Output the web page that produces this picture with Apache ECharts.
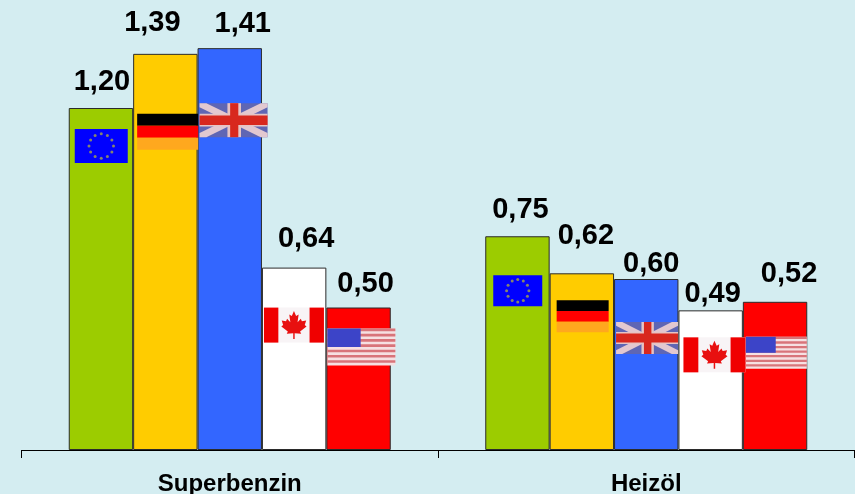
<!DOCTYPE html>
<html><head><meta charset="utf-8">
<style>html,body{margin:0;padding:0;background:#d4edf1}#c{width:855px;height:494px}</style>
<script src="https://cdn.jsdelivr.net/npm/echarts@6/dist/echarts.min.js"></script>
</head><body><div id="c"></div>
<script>
const categories = ['Superbenzin', 'Heizöl'];
const eu = [1.20, 0.75];
const de = [1.39, 0.62];
const uk = [1.41, 0.60];
const ca = [0.64, 0.49];
const us = [0.50, 0.52];

const seriesOrder = [
  {key:'eu', values:eu, color:'#9ccc00'},
  {key:'de', values:de, color:'#ffcc00'},
  {key:'uk', values:uk, color:'#3366ff'},
  {key:'ca', values:ca, color:'#ffffff'},
  {key:'us', values:us, color:'#ff0000'}
];
// label nudges [dx, dy] relative to the bar's top centre
const labelNudge = {
  eu:[[1,-12],[3,-12]], de:[[-13,-16],[4,-23]], uk:[[13,-10],[5,-1]],
  ca:[[12,-14],[2,-2]], us:[[7,-9],[14,-13]]
};
// flag boxes: [dx from bar left, dy from bar top, w, h]
const BAR_W = 64.4;
const flagBox = {
  eu:[[6,21,53,34],[8,39,49,31]],
  de:[[4,60,61,36],[7,27,52,32]],
  uk:[[2,55,68,34],[2,43,62,32]],
  ca:[[2,40,60,35],[5,27,62,35]],
  us:[[1,21,68,37],[3,35,61,32]]
};

function rect(x,y,w,h,fill){return {type:'rect',shape:{x,y,width:w,height:h},style:{fill}};}
function poly(pts,fill,x,y,w,h){return {type:'polygon',shape:{points:pts.map(p=>[x+p[0]*w,y+p[1]*h])},style:{fill}};}
const leaf=[[.5,.1],[.56,.24],[.63,.2],[.6,.42],[.69,.32],[.72,.39],[.84,.37],[.8,.5],[.85,.54],[.67,.68],[.7,.75],[.52,.73],[.52,.9],[.48,.9],[.48,.73],[.3,.75],[.33,.68],[.15,.54],[.2,.5],[.16,.37],[.28,.39],[.31,.32],[.4,.42],[.37,.2],[.44,.24]];

function drawFlag(key,x,y,w,h){
  const c=[];
  if(key==='eu'){
    c.push(rect(x,y,w,h,'#0000ff'));
    const r=h*0.36;
    for(let i=0;i<12;i++){
      const a=i*Math.PI/6;
      c.push({type:'circle',shape:{cx:x+w/2+Math.cos(a)*r,cy:y+h/2+Math.sin(a)*r,r:1.5},style:{fill:'#85856e'}});
    }
  } else if(key==='de'){
    c.push(rect(x,y,w,h/3,'#000000'));
    c.push(rect(x,y+h/3,w,h/3,'#ff0000'));
    c.push(rect(x,y+2*h/3,w,h/3,'#ffa81e'));
  } else if(key==='uk'){
    c.push(rect(x,y,w,h,'#5f66b4'));
    c.push(poly([[0,0],[.1,0],[1,.88],[1,1],[.9,1],[0,.12]],'#e2c8d0',x,y,w,h));
    c.push(poly([[1,0],[.9,0],[0,.88],[0,1],[.1,1],[1,.12]],'#e2c8d0',x,y,w,h));
    c.push(rect(x+w*.41,y,w*.2,h,'#e6c4c4'));
    c.push(rect(x,y+h*.31,w,h*.38,'#e6c4c4'));
    c.push(rect(x+w*.45,y,w*.12,h,'#d8281e'));
    c.push(rect(x,y+h*.36,w,h*.28,'#d8281e'));
  } else if(key==='ca'){
    c.push(rect(x,y,w,h,'#f8f4f6'));
    c.push(rect(x,y,w*.24,h,'#f00000'));
    c.push(rect(x+w*.76,y,w*.24,h,'#f00000'));
    c.push(poly(leaf,'#e81010',x+w*.2,y,w*.6,h));
  } else if(key==='us'){
    const n=7;
    c.push(rect(x,y,w,h,'#f6e0e2'));
    for(let i=0;i<n;i++) c.push(rect(x,y+i*h/n,w,h/(2*n),'#d8747a'));
    c.push(rect(x,y,w*.49,h*.5,'#3c44c8'));
  }
  return {type:'group',children:c};
}

const barSeries = seriesOrder.map(s=>({
  type:'bar', name:s.key, barWidth:BAR_W, barGap:0,
  data:s.values.map((v,i)=>({value:v,label:{offset:labelNudge[s.key][i]}})),
  itemStyle:{color:s.color,borderColor:'#2b2b2b',borderWidth:1},
  label:{show:true,position:'top',distance:0,color:'#000',
    fontFamily:'Liberation Sans',fontWeight:'bold',fontSize:29,
    formatter:p=>p.value.toFixed(2).replace('.',',')}
}));
const flagSeries = seriesOrder.map((s,si)=>({
  type:'custom', name:s.key+'-flag', z:5, silent:true, clip:false,
  data:s.values.map((v,i)=>[i,v]),
  renderItem:(params,api)=>{
    const idx=api.value(0);
    const p=api.coord([idx,api.value(1)]);
    const left=p[0]+(si-2.5)*BAR_W;
    const b=flagBox[s.key][idx];
    return drawFlag(s.key,left+b[0],p[1]+b[1],b[2],b[3]);
  }
}));

const chart = echarts.init(document.getElementById('c'),null,{renderer:'canvas'});
chart.setOption({
  animation:false,
  backgroundColor:'#d4edf1',
  grid:{left:21.5,top:22.5,width:833,height:427.5,containLabel:false,outerBoundsMode:'none'},
  xAxis:{type:'category',data:categories,
    axisLine:{lineStyle:{color:'#000',width:1}},
    axisTick:{show:true,alignWithLabel:false,length:8,lineStyle:{color:'#000'}},
    axisLabel:{color:'#000',fontFamily:'Liberation Sans',fontWeight:'bold',fontSize:24,margin:22,interval:0}},
  yAxis:{type:'value',min:0,max:1.5,show:false,splitLine:{show:false}},
  series:[...barSeries,...flagSeries]
});
</script></body></html>
